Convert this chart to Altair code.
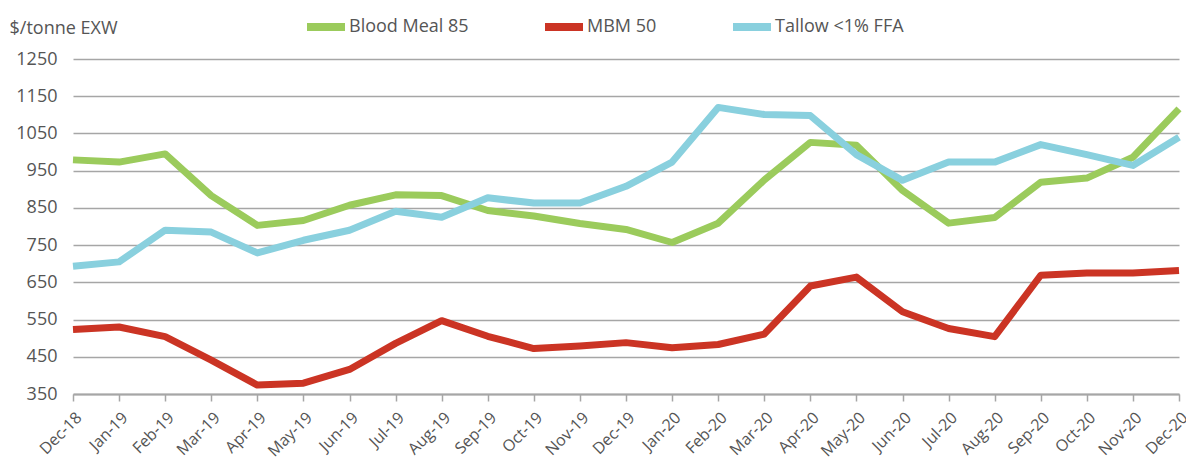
import altair as alt
import pandas as pd

months = ["Dec-18", "Jan-19", "Feb-19", "Mar-19", "Apr-19", "May-19", "Jun-19", "Jul-19",
          "Aug-19", "Sep-19", "Oct-19", "Nov-19", "Dec-19", "Jan-20", "Feb-20", "Mar-20",
          "Apr-20", "May-20", "Jun-20", "Jul-20", "Aug-20", "Sep-20", "Oct-20", "Nov-20", "Dec-20"]

blood_meal = [979, 973, 995, 883, 803, 816, 857, 885, 883, 843, 828, 808, 792, 757,
              809, 925, 1026, 1018, 897, 809, 824, 919, 930, 986, 1116]
mbm = [523, 530, 504, 441, 374, 379, 416, 486, 547, 505, 472, 479, 488, 474,
       483, 511, 640, 664, 571, 526, 504, 669, 675, 675, 682]
tallow = [693, 705, 790, 785, 729, 763, 790, 841, 825, 877, 863, 863, 908, 973,
          1120, 1101, 1098, 993, 924, 973, 973, 1020, 993, 964, 1040]

series_names = ["Blood Meal 85", "MBM 50", "Tallow <1% FFA"]
series_colors = ["#9BCB5C", "#CB3424", "#89D0DE"]
y_ticks = [350, 450, 550, 650, 750, 850, 950, 1050, 1150, 1250]

rows = []
for name, vals in zip(series_names, [blood_meal, mbm, tallow]):
    for i, (m, v) in enumerate(zip(months, vals)):
        rows.append({"month": m, "idx": i, "series": name, "value": v})
df = pd.DataFrame(rows)

FONT = "Open Sans"
GREY_TXT = "#555555"

chart = alt.Chart(df).mark_line(strokeWidth=7, strokeJoin="round", strokeCap="butt").encode(
    x=alt.X("month:O", sort=months,
            scale=alt.Scale(type="point", padding=0),
            axis=alt.Axis(title=None, labelAngle=-45, labelFontSize=16, labelColor=GREY_TXT,
                          labelFont=FONT, tickColor="#A6A6A6", tickSize=7, tickWidth=1.5,
                          domainColor="#A6A6A6", domainWidth=2, labelPadding=8, grid=False)),
    y=alt.Y("value:Q", scale=alt.Scale(domain=[350, 1250], nice=False, zero=False),
            axis=alt.Axis(title="$/tonne EXW", titleAngle=0, titleX=-64, titleY=-26,
                          titleAlign="left", titleBaseline="alphabetic", titleFont=FONT,
                          titleFontSize=18, titleFontWeight="normal", titleColor=GREY_TXT,
                          values=y_ticks, format="d", labelFontSize=18, labelColor=GREY_TXT,
                          labelFont=FONT, labelPadding=16, ticks=False, domain=False,
                          gridColor="#A6A6A6", gridWidth=1.5)),
    color=alt.Color("series:N", sort=series_names,
                    scale=alt.Scale(domain=series_names, range=series_colors),
                    legend=alt.Legend(title=None, orient="none", direction="horizontal",
                                      legendX=230, legendY=-55, symbolType="stroke",
                                      symbolSize=1444, symbolStrokeWidth=8,
                                      labelFontSize=18, labelFont=FONT, labelColor=GREY_TXT,
                                      labelOffset=0, columnPadding=60, gridAlign="each")),
    order="idx:Q",
).properties(
    width=1106, height=335,
    autosize=alt.AutoSizeParams(type="none"),
    padding={"left": 65, "top": 51, "right": 7, "bottom": 70},
).configure_view(stroke=None)

chart.save("out.html", embed_options={"renderer": "svg", "actions": False})
